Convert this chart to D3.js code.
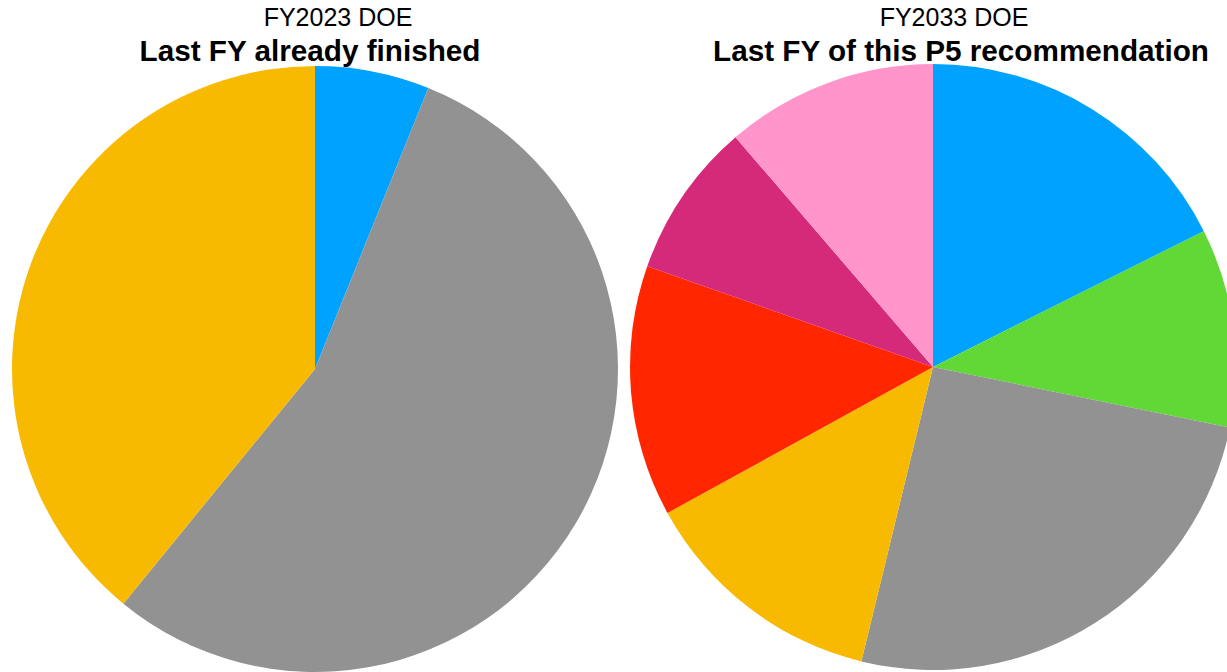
<!DOCTYPE html>
<html>
<head>
<meta charset="utf-8">
<script src="https://cdn.jsdelivr.net/npm/d3@7"></script>
<style>
  html, body { margin: 0; padding: 0; background: #fff; }
  svg { display: block; }
  text { font-family: "Liberation Sans", Arial, Helvetica, sans-serif; fill: #000; }
</style>
</head>
<body>
<svg id="chart" width="1227" height="672"></svg>
<script>
// Budget shares (percent), clockwise from 12 o'clock
const fy2023Shares = [6.1, 54.8, 39.1];
const fy2023Colors = ["#00A2FF", "#929292", "#F8BA00"];

const fy2033Shares = [17.6, 10.6, 25.6, 13.2, 13.4, 8.3, 11.3];
const fy2033Colors = ["#00A2FF", "#61D836", "#929292", "#F8BA00", "#FF2600", "#D5297A", "#FF95CA"];

const subtitles = ["FY2023 DOE", "FY2033 DOE"];
const titles = ["Last FY already finished", "Last FY of this P5 recommendation"];

const svg = d3.select("#chart");
const radius = 303;

const pie = d3.pie().sort(null).value(d => d);
const arc = d3.arc().innerRadius(0).outerRadius(radius);

const charts = [
  { shares: fy2023Shares, colors: fy2023Colors, cx: 315, cy: 369, subX: 338, titleX: 310 },
  { shares: fy2033Shares, colors: fy2033Colors, cx: 933, cy: 367, subX: 954, titleX: 961 }
];

charts.forEach((c, i) => {
  const g = svg.append("g").attr("transform", `translate(${c.cx},${c.cy})`);
  g.selectAll("path")
    .data(pie(c.shares))
    .join("path")
    .attr("d", arc)
    .attr("fill", (d, j) => c.colors[j]);

  svg.append("text")
    .attr("x", c.subX)
    .attr("y", 26)
    .attr("text-anchor", "middle")
    .attr("font-size", 25)
    .text(subtitles[i]);

  svg.append("text")
    .attr("x", c.titleX)
    .attr("y", 61)
    .attr("text-anchor", "middle")
    .attr("font-size", 29.7)
    .attr("font-weight", "bold")
    .text(titles[i]);
});
</script>
</body>
</html>
